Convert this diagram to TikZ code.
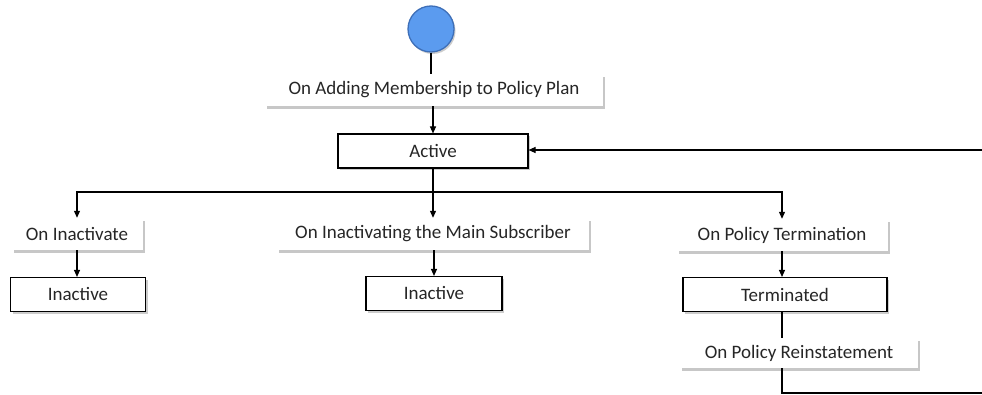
\documentclass[tikz,border=0pt]{standalone}
\usepackage{fontspec}
\setmainfont{Carlito}
\usetikzlibrary{shadows,arrows.meta,calc}
\definecolor{txt}{HTML}{262626}
\definecolor{startfill}{HTML}{5B9BEF}
\definecolor{startline}{HTML}{3E6FB8}
\tikzset{
  x=1pt,y=-1pt,
  every node/.style={font=\fontsize{19}{22}\selectfont, text=txt, inner sep=0pt},
  evlabel/.style={fill=white, minimum height=32pt,
    drop shadow={shadow xshift=2pt, shadow yshift=-3pt, fill=black, opacity=0.22}},
  statebox/.style={draw=black, line width=1.1pt, fill=white, minimum height=34pt,
    drop shadow={shadow xshift=2pt, shadow yshift=-2.5pt, fill=black, opacity=0.2}},
  conn/.style={line width=1.1pt, draw=black},
  arr/.style={conn, -{Triangle[length=7pt,width=6pt]}},
}
\begin{document}
\begin{tikzpicture}
\useasboundingbox (0,0) rectangle (982,395);
\node[circle, draw=startline, line width=1.3pt, fill=startfill, minimum size=46pt,
  drop shadow={shadow xshift=1.5pt, shadow yshift=-2pt, fill=black, opacity=0.2}] (start) at (431,29) {};
\node[evlabel, minimum width=338pt] (lab1) at (434,90) {On Adding Membership to Policy Plan};
\node[statebox, minimum width=190pt] (active) at (433,151) {Active};
\node[evlabel, minimum width=131pt] (lab0) at (77,234) {On Inactivate};
\node[statebox, minimum width=135pt] (inact1) at (78,294.5) {Inactive};
\node[evlabel, minimum width=312pt] (lab2) at (433,234) {On Inactivating the Main Subscriber};
\node[statebox, minimum width=136pt] (inact2) at (434,293.5) {Inactive};
\node[evlabel, minimum width=211pt] (lab3) at (782,235) {On Policy Termination};
\node[statebox, minimum width=204pt] (term) at (785,294.5) {Terminated};
\node[evlabel, minimum width=238pt, minimum height=30pt] (lab4) at (799,353) {On Policy Reinstatement};
\coordinate (br) at (0,192);
\coordinate (rb) at (990,393);
\coordinate (rt) at (990,150);

\draw[conn] (start.south) -- (lab1.north -| start.south);
\draw[arr] (lab1.south -| active.north) -- (active.north);
\draw[arr] (active.south) -- (active.south |- br) -| (lab0.north);
\draw[arr] (active.south) -- (active.south |- br) -| (lab3.north);
\draw[arr] (active.south) -- (active.south |- lab2.north);
\draw[arr] (lab0.south) -- (lab0.south |- inact1.north);
\draw[arr] (lab2.south -| inact2.north) -- (inact2.north);
\draw[arr] (lab3.south) -- (lab3.south |- term.north);
\draw[conn] (term.south -| lab3.south) -- (lab3.south |- lab4.north);
\draw[arr] (lab4.south -| lab3.south) |- (rb) -- (rt) -- (active.east |- rt);
\end{tikzpicture}
\end{document}
